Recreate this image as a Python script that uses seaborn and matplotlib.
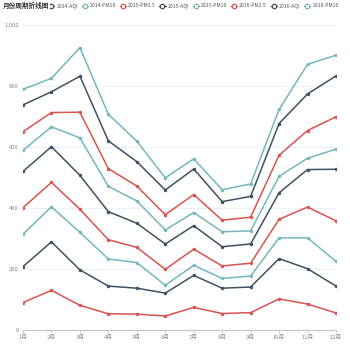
import numpy as np
import pandas as pd
import matplotlib
matplotlib.use("Agg")
import matplotlib.pyplot as plt
from matplotlib.lines import Line2D
from matplotlib.ticker import FuncFormatter
import seaborn as sns

months = ["1月", "2月", "3月", "4月", "5月", "6月", "7月", "8月", "9月", "10月", "11月", "12月"]
series_names = ["2014-PM2.5", "2014-AQI", "2014-PM10",
                "2015-PM2.5", "2015-AQI", "2015-PM10",
                "2016-PM2.5", "2016-AQI", "2016-PM10"]

pm25_2014 = [90, 130, 81, 53, 52, 46, 74, 54, 57, 102, 85, 56]
aqi_2014 = [118, 159, 116, 91, 85, 75, 105, 83, 84, 132, 116, 88]
pm10_2014 = [106, 115, 123, 89, 84, 26, 33, 32, 36, 68, 101, 81]
pm25_2015 = [87, 80, 76, 63, 50, 52, 53, 41, 42, 61, 101, 133]
aqi_2015 = [119, 117, 111, 92, 79, 83, 77, 63, 63, 87, 123, 169]
pm10_2015 = [69, 65, 123, 83, 73, 46, 43, 49, 43, 54, 37, 66]
pm25_2016 = [61, 47, 84, 58, 49, 50, 59, 38, 45, 69, 91, 106]
aqi_2016 = [88, 68, 118, 91, 80, 81, 84, 61, 68, 104, 120, 134]
pm10_2016 = [51, 44, 94, 87, 67, 40, 33, 39, 41, 46, 97, 68]

series_values = [pm25_2014, aqi_2014, pm10_2014,
                 pm25_2015, aqi_2015, pm10_2015,
                 pm25_2016, aqi_2016, pm10_2016]

RED = "#d9534f"
DARK = "#3e5264"
TEAL = "#74b7be"
colors = [RED, DARK, TEAL] * 3

# stacked (cumulative) values, as in a stacked line chart
stacked = np.cumsum(np.array(series_values, dtype=float), axis=0)
rows = []
for name, vals in zip(series_names, stacked):
    for i, v in enumerate(vals):
        rows.append({"month": i, "series": name, "value": v})
df = pd.DataFrame(rows)

sns.set_theme(style="white")
plt.rcParams["font.family"] = ["Noto Sans CJK SC", "DejaVu Sans"]

fig = plt.figure(figsize=(3.5, 3.5), dpi=100)
ax = fig.add_axes([23 / 350, 20 / 350, (336 - 23) / 350, (330 - 25) / 350])

sns.lineplot(data=df, x="month", y="value", hue="series", hue_order=series_names,
             palette=dict(zip(series_names, colors)), ax=ax, legend=False,
             linewidth=1.1, marker="o", markersize=2.5, markeredgewidth=0)

ax.set_xlim(0, 11)
ax.set_ylim(0, 1000)
ax.set_xticks(range(12))
ax.set_xticklabels(months)
ax.set_yticks([0, 200, 400, 600, 800, 1000])
ax.yaxis.set_major_formatter(FuncFormatter(lambda v, p: f"{int(v):,}"))
ax.set_xlabel("")
ax.set_ylabel("")
ax.grid(axis="y", color="#eceff6", linewidth=0.8)
ax.grid(axis="x", visible=False)
for s in ["top", "right", "left"]:
    ax.spines[s].set_visible(False)
ax.spines["bottom"].set_color("#c8c8c8")
ax.spines["bottom"].set_linewidth(0.9)
ax.tick_params(axis="x", length=2.5, width=0.6, color="#c8c8c8", labelsize=4.2,
               labelcolor="#888888", pad=1.0, bottom=True)
ax.tick_params(axis="y", length=0, labelsize=4.2, labelcolor="#888888", pad=3)

handles = [Line2D([0], [0], color=c, linewidth=1.0, marker="o", markersize=3.2,
                  markerfacecolor="white", markeredgecolor=c, markeredgewidth=0.9)
           for c in colors]
fig.legend(handles, series_names, loc="center", bbox_to_anchor=(0.496, 0.983), ncol=9,
           fontsize=3.7, frameon=False, handlelength=1.2, handletextpad=0.4,
           columnspacing=0.7, labelcolor="#555555", borderpad=0.1)

fig.text(0.008, 0.983, "月份周期折线图", fontsize=4.8, fontweight="bold", color="#333333",
         va="center", ha="left", zorder=10,
         bbox=dict(facecolor="white", edgecolor="none", pad=0.6))

fig.savefig("out.png", dpi=100)
